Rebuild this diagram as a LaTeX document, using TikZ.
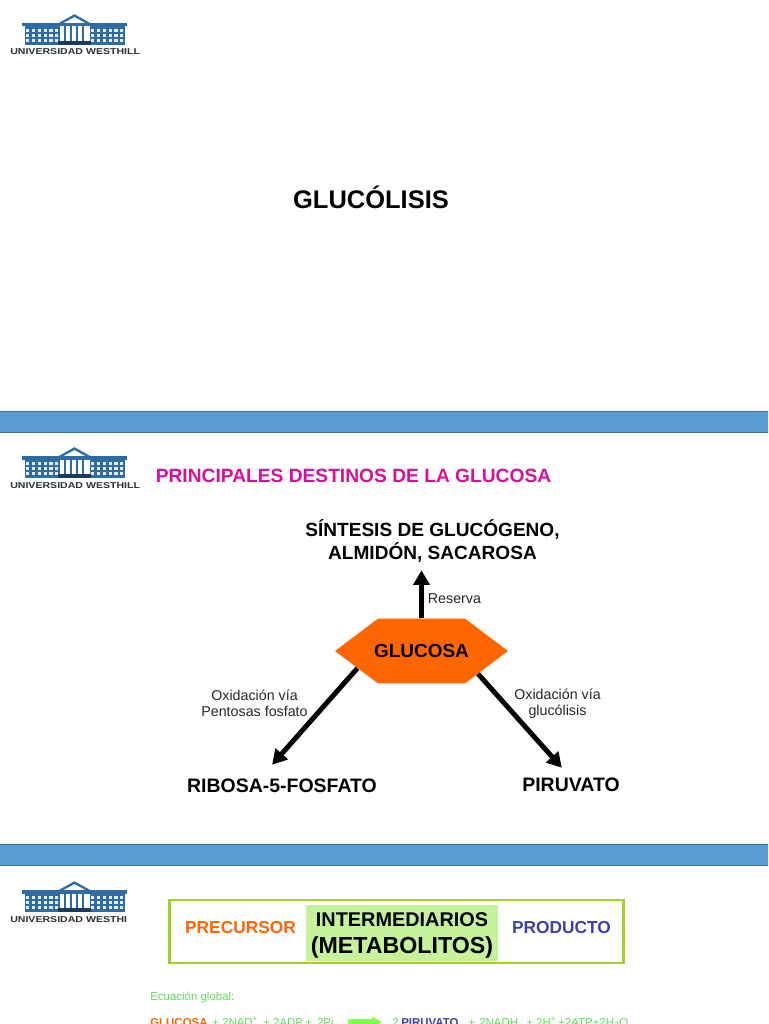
\documentclass[tikz,border=0pt]{standalone}
\usepackage{fontspec}
\usepackage{graphicx}
\setmainfont{Liberation Sans}
\usetikzlibrary{arrows.meta,shapes.symbols}
\definecolor{barblue}{HTML}{5B9BD5}
\definecolor{barline}{HTML}{41719C}
\definecolor{logoblue}{HTML}{2F6CA3}
\definecolor{logotext}{HTML}{2B3138}
\definecolor{titlepink}{HTML}{D5109B}
\definecolor{hexorange}{HTML}{FF6600}
\definecolor{prodblue}{HTML}{3F3FAF}
\definecolor{boxgreen}{HTML}{A2D226}
\definecolor{fillgreen}{HTML}{C6F29C}
\definecolor{eqgreen}{HTML}{5FDD57}
\definecolor{arrowgreen}{HTML}{80FF50}
\newcommand{\fs}[1]{\fontsize{#1}{#1}\selectfont}
\newcommand{\logotxt}[1]{\scalebox{1.3}[1.05]{\fs{6.1}\bfseries #1}}
\tikzset{
  x=0.75pt,y=-0.75pt,
  bar/.style={fill=barblue,draw=barline,line width=0.5pt},
  txt/.style={inner sep=0pt,font=\fs{10}\bfseries,text=black,align=center},
  lab/.style={inner sep=0pt,font=\fs{10.7},text=black!85,align=center},
  flow/.style={line width=3.7pt,-{Triangle[length=11pt,width=12pt]}},
  eq/.style={inner sep=0pt,anchor=base west,font=\fs{8.6},text=eqgreen},
  logotag/.style={inner sep=0pt,anchor=base west,text=logotext},
  logo/.pic={
    \fill[logoblue] (22,23) rectangle (127,26.5);
    \fill[logoblue] (24.5,26) rectangle (124.5,45);
    \fill[logoblue] (57,24) -- (74.5,14.2) -- (92,24) -- cycle;
    \fill[white] (64,22.8) -- (74.5,17.2) -- (85,22.8) -- cycle;
    \fill[white] (60,26.5) rectangle (90,41);
    \foreach \cx in {64.4,70.4,76.4,82.4}{\fill[logoblue] (\cx,26.5) rectangle (\cx+1.5,41);}
    \fill[black!45!logoblue] (58,41) rectangle (91,45);
    \foreach \cx in {26.2,32,37.8,43.6,49.4,55.2,91.2,97,102.8,108.6,114.4,120.2}{
      \foreach \cy in {28.6,33.6,38.6}{\fill[white!88!logoblue] (\cx,\cy) rectangle (\cx+3.2,\cy+3.4);}}
  },
}
\begin{document}
\begin{tikzpicture}
\useasboundingbox (0,0) rectangle (768,1024);
\clip (0,0) rectangle (768,1024);
\fill[white] (0,0) rectangle (768,1024);
% logos
\pic at (0,0) {logo};
\pic at (0,433) {logo};
\pic at (0,867) {logo};
\node[logotag] (lt1) at (10,55) {\logotxt{UNIVERSIDAD WESTHILL}};
\node[logotag] (lt2) at (10,488) {\logotxt{UNIVERSIDAD WESTHILL}};
\node[logotag] (lt3) at (10,922.5) {\logotxt{UNIVERSIDAD WESTHI}};
% bars
\draw[bar] (-2,411) rectangle (770,432);
\draw[bar] (-2,844) rectangle (770,865);
% slide 1
\node[txt,font=\fs{19.1}\bfseries] (t1) at (371,197.5) {GLUCÓLISIS};
% slide 2
\node[txt,font=\fs{14.4}\bfseries,text=titlepink] (t2) at (353.5,475.5) {PRINCIPALES DESTINOS DE LA GLUCOSA};
\node[signal,signal to=west and east,signal pointer angle=74,fill=hexorange,minimum width=129.7pt,minimum height=48.5pt,inner sep=0pt] (glu) at (421.5,651) {};
\node[txt,font=\fs{14.2}\bfseries] (glutxt) at (421.5,651) {GLUCOSA};
\node[txt,font=\fs{14.3}\bfseries,minimum height=43.5pt] (sint) at (432.5,541) {SÍNTESIS DE GLUCÓGENO,\\[1.4pt]ALMIDÓN, SACAROSA};
\node[txt,font=\fs{14.6}\bfseries,minimum height=31.5pt,minimum width=142pt] (ribosa) at (282,786) {RIBOSA-5-FOSFATO};
\node[txt,font=\fs{14.6}\bfseries,minimum height=25.5pt,minimum width=74pt] (piru) at (571,785) {PIRUVATO};
\draw[flow] (glu.north) -- (glu.north |- sint.south);
\draw[flow] (glu.195.8) -- (ribosa.115);
\draw[flow] (glu.338) -- (piru.118);
\node[lab] (l1) at (454.5,599) {Reserva};
\node[lab] (l2) at (254.5,703.5) {Oxidación vía\\[1.2pt]Pentosas fosfato};
\node[lab] (l3) at (557.5,703.5) {Oxidación vía\\[1.2pt]glucólisis};
% slide 3
\node[draw=boxgreen,line width=1.9pt,minimum width=340.5pt,minimum height=47.5pt,inner sep=0pt] (box) at (396.5,931.5) {};
\node[fill=fillgreen,minimum width=144pt,minimum height=42pt,inner sep=0pt] (mid) at (402,933) {};
\node[txt,font=\fs{14.9}\bfseries] (in1) at (402,920) {INTERMEDIARIOS};
\node[txt,font=\fs{17.4}\bfseries] (in2) at (402,947) {(METABOLITOS)};
\node[txt,font=\fs{13}\bfseries,text=hexorange] (pre) at (240.5,927.5) {PRECURSOR};
\node[txt,font=\fs{13}\bfseries,text=prodblue] (pro) at (561.5,927.5) {PRODUCTO};
\node[inner sep=0pt,anchor=base west,font=\fs{8.6},text=eqgreen] (eg) at (150,1000) {Ecuación global:};
\node[eq,text=hexorange,font=\fs{8.6}\bfseries] (e1) at (150,1026.5) {GLUCOSA};
\node[eq] (e2) at (212,1026.5) {+ 2NAD\textsuperscript{+}};
\node[eq] (e3) at (263,1026.5) {+ 2ADP};
\node[eq] (e4) at (305,1026.5) {+ \,2Pi};
\fill[arrowgreen] (348,1019) -- (372,1019) -- (372,1016.5) -- (382,1022) -- (372,1027.5) -- (372,1025) -- (348,1025) -- cycle;
\node[eq] (e5) at (392,1026.5) {2};
\node[eq,text=prodblue,font=\fs{8.6}\bfseries] (e6) at (401,1026.5) {PIRUVATO};
\node[eq] (e7) at (468,1026.5) {+};
\node[eq] (e8) at (479,1026.5) {2NADH};
\node[eq] (e9) at (526,1026.5) {+ 2H\textsuperscript{+}};
\node[eq] (e10) at (558,1026.5) {+2ATP+2H\textsubscript{2}O};
\end{tikzpicture}
\end{document}
